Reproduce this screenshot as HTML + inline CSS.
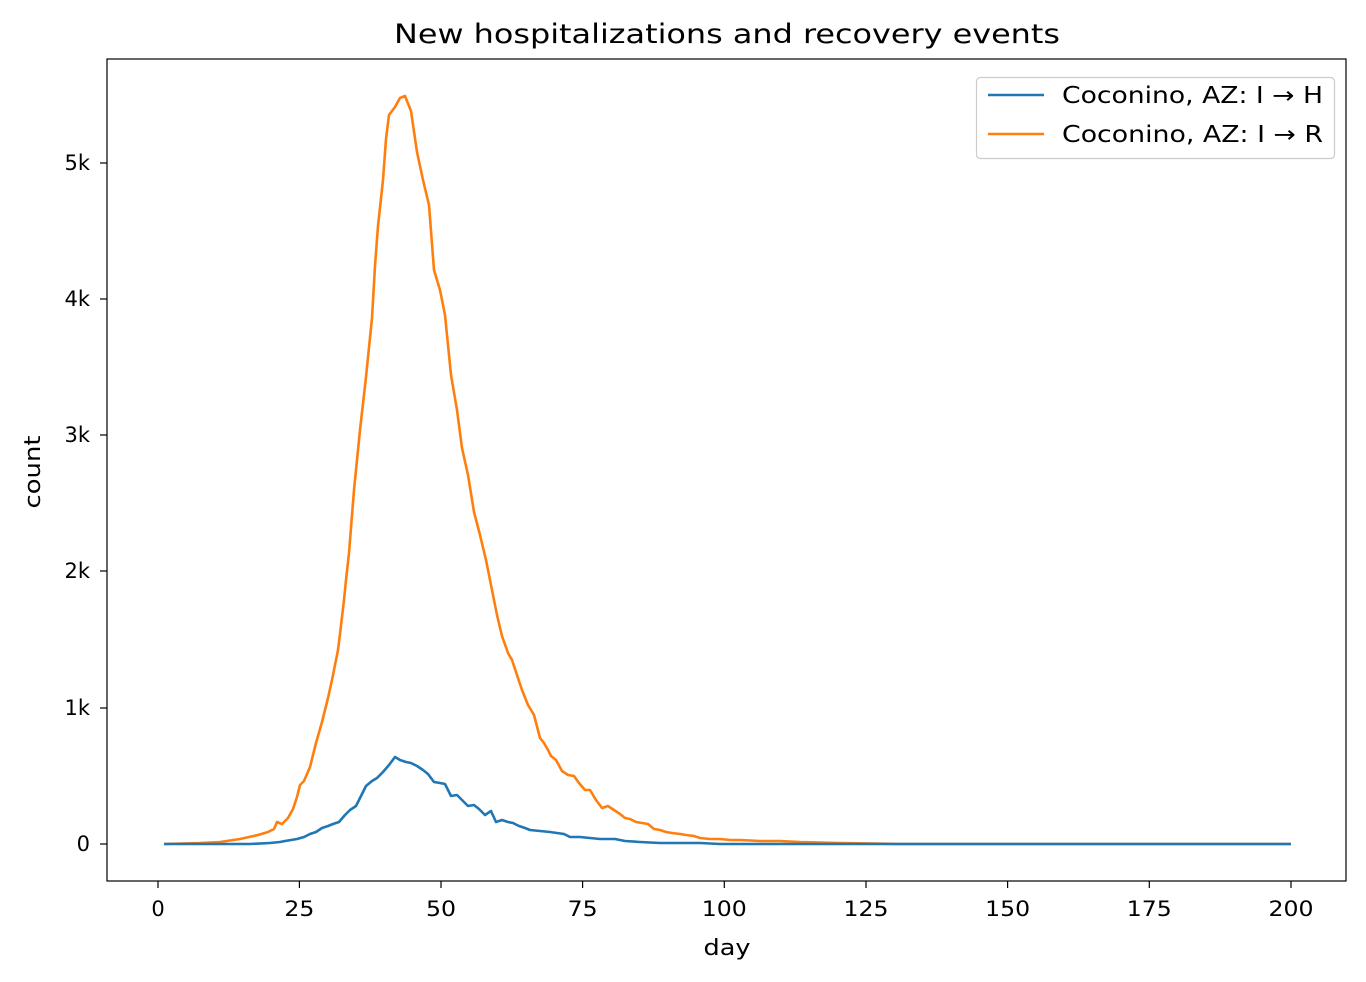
<!DOCTYPE html>
<html><head><meta charset="utf-8"><style>body{margin:0;background:#fff}svg{display:block}text{font-family:"DejaVu Sans","Liberation Sans",sans-serif;fill:#000}</style></head><body>
<svg width="1366" height="982" viewBox="0 0 1366 982">
<text x="727" y="43" font-size="27" text-anchor="middle" textLength="666" lengthAdjust="spacingAndGlyphs">New hospitalizations and recovery events</text>
<g stroke="#000" stroke-width="1.2">
<line x1="158" y1="881" x2="158" y2="888"/><line x1="299.4" y1="881" x2="299.4" y2="888"/><line x1="441" y1="881" x2="441" y2="888"/><line x1="582.6" y1="881" x2="582.6" y2="888"/><line x1="724.3" y1="881" x2="724.3" y2="888"/><line x1="866" y1="881" x2="866" y2="888"/><line x1="1007.6" y1="881" x2="1007.6" y2="888"/><line x1="1149.3" y1="881" x2="1149.3" y2="888"/><line x1="1291" y1="881" x2="1291" y2="888"/>
<line x1="100" y1="844" x2="107" y2="844"/><line x1="100" y1="708" x2="107" y2="708"/><line x1="100" y1="571" x2="107" y2="571"/><line x1="100" y1="435" x2="107" y2="435"/><line x1="100" y1="299" x2="107" y2="299"/><line x1="100" y1="163" x2="107" y2="163"/>
</g>
<g font-size="21" text-anchor="middle">
<text x="158" y="916">0</text><text x="299.4" y="916" textLength="30" lengthAdjust="spacingAndGlyphs">25</text><text x="441" y="916" textLength="30" lengthAdjust="spacingAndGlyphs">50</text><text x="582.6" y="916" textLength="30" lengthAdjust="spacingAndGlyphs">75</text><text x="724.3" y="916" textLength="45" lengthAdjust="spacingAndGlyphs">100</text><text x="866" y="916" textLength="45" lengthAdjust="spacingAndGlyphs">125</text><text x="1007.6" y="916" textLength="45" lengthAdjust="spacingAndGlyphs">150</text><text x="1149.3" y="916" textLength="45" lengthAdjust="spacingAndGlyphs">175</text><text x="1291" y="916" textLength="45" lengthAdjust="spacingAndGlyphs">200</text>
</g>
<g font-size="21" text-anchor="end">
<text x="90" y="851">0</text><text x="90" y="715">1k</text><text x="90" y="578">2k</text><text x="90" y="442">3k</text><text x="90" y="306">4k</text><text x="90" y="170">5k</text>
</g>
<text x="727" y="955" font-size="22" text-anchor="middle" textLength="47" lengthAdjust="spacingAndGlyphs">day</text>
<text x="40" y="472" font-size="22" text-anchor="middle" textLength="73" lengthAdjust="spacingAndGlyphs" transform="rotate(-90 40 472)">count</text>
<polyline fill="none" stroke="#ff7f0e" stroke-width="2.6" stroke-linejoin="round" points="164,844 200,843 220,842 240,839 258,835 268,832 274,829 277,822 282,824 288,818 293,809 297,797 300,785 304,781 310,767 316,743 322,722 328,698 332,680 338,650 340,634 344,600 346,580 349,553 354,490 360,430 366,377 372,318 375,266 378,226 383,180 386,139 389,115 395,107 400,98 405,96 411,111 417,152 423,180 429,205 434,270 440,290 445,315 451,375 457,410 462,448 468,475 474,512 480,535 486,560 491,585 497,615 502,636 508,653 512,660 517,675 522,690 528,705 534,715 540,738 544,743 548,750 551,756 556,760 562,771 568,775 574,776 579,783 585,790 590,790 596,800 602,808 608,806 614,810 620,814 625,818 630,819 636,822 642,823 648,824 654,829 660,830 666,832 672,833 680,834 686,835 694,836 700,838 710,839 720,839 730,840 740,840 760,841 780,841 800,842 840,843 900,844 1291,844"/>
<polyline fill="none" stroke="#1f77b4" stroke-width="2.6" stroke-linejoin="round" points="164,844 250,844 270,843 280,842 285,841 291,840 297,839 304,837 310,834 316,832 322,828 328,826 333,824 339,822 345,815 350,810 356,806 361,796 366,786 372,781 377,778 383,772 389,765 395,757 400,760 406,762 411,763 417,766 423,770 428,774 434,782 440,783 445,784 451,796 457,795 462,800 468,806 474,805 479,809 485,815 491,811 496,822 502,820 508,822 513,823 519,826 525,828 530,830 540,831 550,832 557,833 564,834 570,837 580,837 590,838 600,839 615,839 625,841 640,842 660,843 680,843 700,843 720,844 1291,844"/>
<rect x="107" y="59" width="1239" height="822" fill="none" stroke="#000" stroke-width="1.2"/>
<rect x="976.5" y="77.5" width="358" height="81" rx="4" fill="#fff" fill-opacity="0.8" stroke="#ccc" stroke-width="1.2"/>
<line x1="988" y1="95" x2="1044" y2="95" stroke="#1f77b4" stroke-width="2.6"/>
<line x1="988" y1="134" x2="1044" y2="134" stroke="#ff7f0e" stroke-width="2.6"/>
<text x="1062" y="103" font-size="23" textLength="261" lengthAdjust="spacingAndGlyphs">Coconino, AZ: I → H</text>
<text x="1062" y="142" font-size="23" textLength="261" lengthAdjust="spacingAndGlyphs">Coconino, AZ: I → R</text>
</svg></body></html>
